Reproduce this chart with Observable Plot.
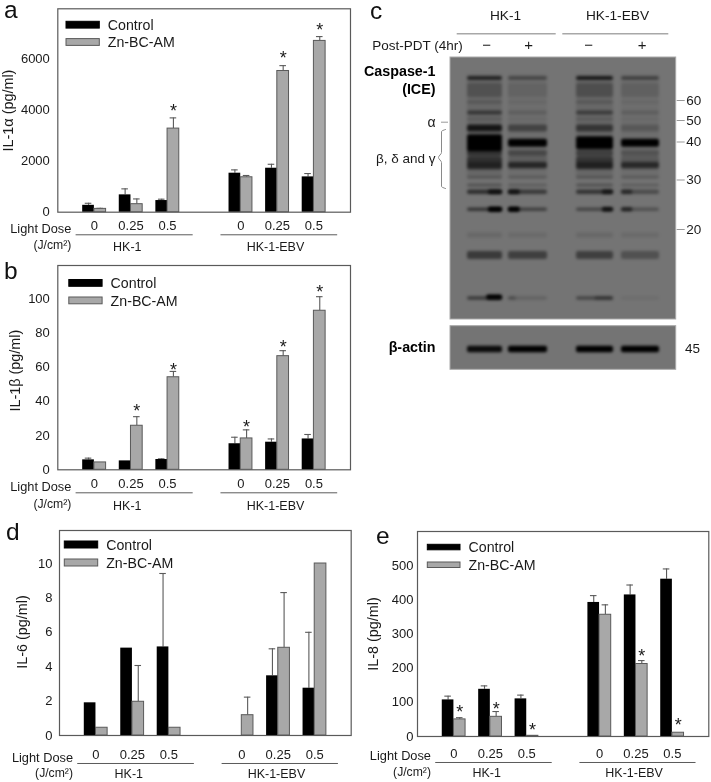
<!DOCTYPE html>
<html><head><meta charset="utf-8">
<script src="https://cdn.jsdelivr.net/npm/d3@7"></script>
<script src="https://cdn.jsdelivr.net/npm/@observablehq/plot@0.6"></script>
<style>
html,body{margin:0;padding:0;background:#fff}
#fig{position:relative;width:711px;height:782px;overflow:hidden;font-family:"Liberation Sans",Arial,sans-serif;color:#111;filter:blur(0.4px)}
#fig svg{position:absolute;max-width:none}
.ltr{position:absolute;font-size:24.5px;line-height:24px;color:#111}
</style></head><body><div id="fig"></div>
<script>
// ---------- shared categories ----------
const series = ["Control", "Zn-BC-AM"];
const doseLabels = ["0", "0.25", "0.5", "0", "0.25", "0.5"];
const slots = [0, 1, 2, 4, 5, 6];
const cellLines = ["HK-1", "HK-1-EBV"];

// ---------- panel a: IL-1alpha ----------
const aControl = [270, 680, 457, 1530, 1725, 1385];
const aControlErr = [350, 915, 510, 1660, 1880, 1516];
const aZinc = [130, 314, 3280, 1370, 5540, 6720];
const aZincErr = [150, 520, 3700, 1440, 5750, 6890];
const aStars = [null, null, 4118, null, 6183, 7294];
const aTicks = [0, 2000, 4000, 6000];

// ---------- panel b: IL-1beta ----------
const bControl = [5.8, 5.2, 6, 15.2, 16.1, 18];
const bControlErr = [6.8, null, 6.4, 19, 18, 20.6];
const bZinc = [4.3, 25.7, 54, 18.3, 66.3, 92.8];
const bZincErr = [null, 31, 57.4, 23.3, 69.5, 101];
const bStars = [null, 36.6, 60.5, 27.4, 74, 105.8];
const bTicks = [0, 20, 40, 60, 80, 100];

// ---------- panel d: IL-6 ----------
const dControl = [1.9, 5.08, 5.15, 0, 3.47, 2.75];
const dControlErr = [null, null, 9.42, null, 5.04, 6];
const dZinc = [0.45, 1.96, 0.45, 1.18, 5.1, 10];
const dZincErr = [null, 4.07, null, 2.23, 8.31, null];
const dStars = [null, null, null, null, null, null];
const dTicks = [0, 2, 4, 6, 8, 10];

// ---------- panel e: IL-8 ----------
const eControl = [107, 138, 110, 392, 414, 460];
const eControlErr = [118, 148, 121, 412, 443, 490];
const eZinc = [50, 57.5, 2, 356, 212, 11];
const eZincErr = [55, 73, null, 385, 222, null];
const eStars = [83, 92.6, 30, null, 245.6, 45];
const eTicks = [0, 100, 200, 300, 400, 500];

// ---------- panel c: blot, densities per lane at each band position ----------
const kDa = [60, 50, 40, 30, 20];
const kDaPos = [43, 63, 84.5, 122.5, 172];
const laneStart = [17, 58, 126, 171];
const laneEnd = [52, 97, 163, 209];
const bandPos = [70, 21, 33, 45, 55.5, 62, 71, 85.7, 85.7, 85.7, 96, 106, 108, 120, 128, 134.7, 152.3, 178, 198, 241, 292];
const bandThick = [105, 3.5, 14, 3, 4, 3, 7, 17, 13, 8, 6, 13, 6, 2.5, 3, 4.5, 3.5, 5, 8, 3.5, 6.5];
const lane1 = [.1, .75, .22, .2, .5, .15, .8, 1, 0, 1, .5, .55, .3, .2, .3, .6, .55, .1, .5, .5, .9];
const lane2 = [.05, .4, .1, .08, .15, .05, .4, 0, 0, 1, .35, .15, .6, .2, .2, .5, .45, .08, .45, .15, 1];
const lane3 = [.1, .85, .25, .2, .45, .15, .5, 0, 1, 1, .4, .5, .4, .2, .3, .55, .4, .1, .45, .4, 1];
const lane4 = [.05, .45, .12, .08, .15, .05, .2, 0, 0, 1, .25, .2, .55, .2, .2, .35, .3, .08, .3, .06, 1];
const laneDensity = [lane1, lane2, lane3, lane4];
// darker parts of a band inside a lane: lane, fraction from, fraction to, position, thickness, density
const spotLane = [0, 1, 2, 3, 0, 1, 2, 3, 0, 1, 2];
const spotFrom = [.6, 0, .7, 0, .6, 0, .7, 0, .55, 0, .5];
const spotTo = [1, .3, 1, .3, 1, .3, 1, .3, 1, .2, 1];
const spotPos = [134.7, 134.7, 134.7, 134.7, 152.3, 152.3, 152.3, 152.3, 240, 241, 241];
const spotThick = [4.5, 4.5, 4.5, 4, 5, 5, 4.5, 4, 5, 3, 3];
const spotDark = [.7, .7, .6, .5, 1, 1, .8, .6, 1, .25, .3];

const INK = "#1a1a1a", LINE = "#5a5a5a", GREY = "#a8a8a8";
const FONT = "Liberation Sans, Arial, sans-serif";
const fig = document.getElementById("fig");

function place(svg, left, top) {
  svg.style.left = left + "px";
  svg.style.top = top + "px";
  fig.appendChild(svg);
}

function barPanel(c) {
  const W = c.R - c.L, H = c.B - c.T;
  const sx = px => -1 + 8 * px / W;
  const sy = py => c.ymax * (1 - py / H);
  const rows = slots.flatMap((s, i) => [
    {s, k: 0, v: c.ctrl[i], e: c.ctrlErr[i], star: null},
    {s, k: 1, v: c.zinc[i], e: c.zincErr[i], star: c.stars[i]}
  ]);
  const mid = d => d.s + (d.k ? 0.16 : -0.16);
  const hw = 0.16;
  const legend = series.map((name, k) => ({name, k}));
  const groups = [
    {name: cellLines[0], at: 0.9, from: -0.5, to: 2.7},
    {name: cellLines[1], at: 4.95, from: 3.46, to: 6.65}
  ];
  const svg = Plot.plot({
    width: c.R + 5 - c.left, height: c.B + c.mb - c.top,
    marginLeft: c.L - c.left, marginRight: 5, marginTop: c.T - c.top, marginBottom: c.mb,
    x: {domain: [-1, 7]}, y: {domain: [0, c.ymax]},
    style: {fontFamily: FONT, fontSize: "13px", color: INK, background: "transparent"},
    marks: [
      Plot.frame({stroke: LINE, strokeWidth: 1.2}),
      Plot.ruleX(rows.filter(d => d.e != null), {x: mid, y1: "v", y2: "e", stroke: LINE, strokeWidth: 1.1}),
      Plot.ruleY(rows.filter(d => d.e != null), {y: "e", x1: d => mid(d) - 0.09, x2: d => mid(d) + 0.09, stroke: LINE, strokeWidth: 1.1}),
      Plot.rectY(rows.filter(d => d.k === 0 && d.v > 0), {x1: d => d.s - 2 * hw, x2: d => d.s, y1: () => 0, y2: "v", fill: "#000"}),
      Plot.rectY(rows.filter(d => d.k === 1), {x1: d => d.s, x2: d => d.s + 2 * hw, y1: () => 0, y2: "v", fill: GREY, stroke: LINE, strokeWidth: 1}),
      Plot.text(rows.filter(d => d.star != null), {x: mid, y: "star", text: () => "*", fontSize: 18, dy: 4, fill: INK}),
      // legend inside the frame
      Plot.rect(legend, {
        x1: () => sx(c.lx), x2: () => sx(c.lx + c.lw),
        y1: d => sy(c.ly[d.k]), y2: d => sy(c.ly[d.k] + c.lh),
        fill: d => d.k ? GREY : "#000", stroke: d => d.k ? LINE : "#000", strokeWidth: 1
      }),
      Plot.text(legend, {
        x: () => sx(c.lx + c.lw + 8), y: d => sy(c.ly[d.k] + c.lh / 2 + 0.2),
        text: "name", textAnchor: "start", fontSize: 14.2, fill: INK
      }),
      // axes
      Plot.axisY({ticks: c.ticks, tickSize: 0, tickPadding: c.yPad, fontSize: 13, tickFormat: "d", label: null}),
      Plot.text([c.ylabel], {frameAnchor: "left", textAnchor: "middle", rotate: -90, dx: c.labelDx, dy: c.labelDy, fontSize: 14.4, fill: INK}),
      Plot.axisX({ticks: slots, tickFormat: (d) => doseLabels[slots.indexOf(d)], tickSize: 0, tickPadding: c.xPad, fontSize: 13, label: null}),
      // treatment annotation below the axis
      Plot.ruleY(groups, {y: () => 0, x1: "from", x2: "to", dy: c.rule, stroke: LINE, strokeWidth: 1}),
      Plot.text(groups, {x: "at", y: () => 0, text: "name", dy: c.group, fontSize: 12.5, fill: INK}),
      Plot.text(["Light Dose"], {x: () => -0.63, y: () => 0, dy: c.dose1, textAnchor: "end", fontSize: 12.8, fill: INK}),
      Plot.text(["(J/cm²)"], {x: () => -0.63, y: () => 0, dy: c.dose2, textAnchor: "end", fontSize: 12.2, fill: INK})
    ]
  });
  place(svg, c.left, c.top);
}

barPanel({left: 0, top: 0, L: 57.3, T: 8.3, R: 350, B: 211.7, mb: 43, ymax: 7980,
  ctrl: aControl, ctrlErr: aControlErr, zinc: aZinc, zincErr: aZincErr, stars: aStars, ticks: aTicks,
  ylabel: "IL-1α (pg/ml)", yPad: 8, labelDx: -49.3, labelDy: 0, xPad: 9,
  lx: 8.7, lw: 33.3, ly: [13, 30.3], lh: 6.8, rule: 22.6, group: 34.5, dose1: 17, dose2: 32.5});

barPanel({left: 0, top: 255, L: 57.3, T: 265, R: 350, B: 469.3, mb: 45, ymax: 119.2,
  ctrl: bControl, ctrlErr: bControlErr, zinc: bZinc, zincErr: bZincErr, stars: bStars, ticks: bTicks,
  ylabel: "IL-1β (pg/ml)", yPad: 8, labelDx: -42.3, labelDy: 3, xPad: 9,
  lx: 11.5, lw: 33.3, ly: [14.5, 32], lh: 6.8, rule: 23, group: 36, dose1: 17, dose2: 34});

barPanel({left: 0, top: 515, L: 59, T: 530, R: 350.7, B: 735, mb: 46, ymax: 11.92,
  ctrl: dControl, ctrlErr: dControlErr, zinc: dZinc, zincErr: dZincErr, stars: dStars, ticks: dTicks,
  ylabel: "IL-6 (pg/ml)", yPad: 7, labelDx: -37.3, labelDy: -1, xPad: 14,
  lx: 5.3, lw: 33.4, ly: [11, 29], lh: 7, rule: 28, group: 39, dose1: 22, dose2: 38});

barPanel({left: 360, top: 515, L: 417, T: 531, R: 708.3, B: 736, mb: 45, ymax: 599.5,
  ctrl: eControl, ctrlErr: eControlErr, zinc: eZinc, zincErr: eZincErr, stars: eStars, ticks: eTicks,
  ylabel: "IL-8 (pg/ml)", yPad: 4, labelDx: -44, labelDy: 0, xPad: 12,
  lx: 10.3, lw: 32.7, ly: [13.3, 31], lh: 5.5, rule: 26, group: 37, dose1: 19.7, dose2: 35.7});

// ---------- panel c ----------
(function () {
  const blocks = [{y1: 0, y2: 262}, {y1: 268.7, y2: 312.3}];
  const bands = bandPos.flatMap((p, b) => laneDensity.map((dens, l) => ({
    p, t: bandThick[b], a: dens[b], x1: laneStart[l], x2: laneEnd[l]
  }))).filter(d => d.a > 0);
  const spots = spotLane.map((l, i) => {
    const w = laneEnd[l] - laneStart[l];
    return {p: spotPos[i], t: spotThick[i], a: spotDark[i], x1: laneStart[l] + w * spotFrom[i], x2: laneStart[l] + w * spotTo[i]};
  });
  const centred = [
    {t: "HK-1", x: 55, y: -42, s: 13.7},
    {t: "HK-1-EBV", x: 167, y: -42, s: 13.7},
    {t: "−", x: 36, y: -12, s: 15},
    {t: "+", x: 78, y: -12, s: 15},
    {t: "−", x: 138, y: -12, s: 15},
    {t: "+", x: 191.7, y: -12, s: 15},
    {t: "45", x: 242, y: 291, s: 13.5}
  ];
  const rightAligned = [
    {t: "Post-PDT (4hr)", x: 12.3, y: -12, s: 13.5},
    {t: "α", x: -15, y: 64.7, s: 14},
    {t: "β, δ and γ", x: -15, y: 100.7, s: 13.5}
  ];
  const bold = [
    {t: "Caspase-1", x: -15, y: 14},
    {t: "(ICE)", x: -15, y: 32.3},
    {t: "β-actin", x: -15, y: 290}
  ];
  const headerRules = [{x1: 6.7, x2: 105.7}, {x1: 112.3, x2: 218.3}];
  const brace = [[-5, 72], [-9, 74], [-9, 95], [-12, 100], [-9, 105], [-9, 129], [-5, 131]];
  const svg = Plot.plot({
    width: 356, height: 380, marginLeft: 95, marginRight: 35.3, marginTop: 57, marginBottom: 10.7,
    x: {domain: [0, 225.7], axis: null}, y: {domain: [0, 312.3], reverse: true},
    style: {fontFamily: FONT, fontSize: "13px", color: INK, background: "transparent"},
    marks: [
      Plot.rect(blocks, {x1: () => 0, x2: () => 225.7, y1: "y1", y2: "y2", fill: "#747474", stroke: "#a9a9a9", strokeWidth: 1}),
      Plot.rect(bands, {
        x1: "x1", x2: "x2", y1: d => d.p - d.t / 2, y2: d => d.p + d.t / 2,
        fill: "#000", fillOpacity: "a", rx: 2, imageFilter: "blur(1.6px)"
      }),
      Plot.rect(spots, {
        x1: "x1", x2: "x2", y1: d => d.p - d.t / 2, y2: d => d.p + d.t / 2,
        fill: "#000", fillOpacity: "a", rx: 2, imageFilter: "blur(1.4px)"
      }),
      Plot.axisY({anchor: "right", ticks: kDaPos, tickFormat: d => kDa[kDaPos.indexOf(d)], tickSize: 8, tickPadding: 2,
        fontSize: 13.5, stroke: "#999", fill: INK, label: null}),
      Plot.text(centred, {x: "x", y: "y", text: "t", fontSize: "s", fill: INK}),
      Plot.text(rightAligned, {x: "x", y: "y", text: "t", fontSize: "s", textAnchor: "end", fill: INK}),
      Plot.text(bold, {x: "x", y: "y", text: "t", fontSize: 14.3, fontWeight: "bold", textAnchor: "end", fill: "#000"}),
      Plot.ruleY(headerRules, {y: () => -23.7, x1: "x1", x2: "x2", stroke: "#a8a8a8", strokeWidth: 1.5}),
      Plot.ruleY([{}], {y: () => 64.7, x1: () => -9, x2: () => -2, stroke: "#999"}),
      Plot.line(brace, {x: d => d[0], y: d => d[1], stroke: "#8a8a8a", strokeWidth: 1, curve: "monotone-y"})
    ]
  });
  place(svg, 355, 0);
})();

// ---------- panel letters ----------
[["a", 4, -2], ["b", 4, 259], ["c", 370, -1], ["d", 6, 520], ["e", 376, 524]].forEach(([t, x, y]) => {
  const d = document.createElement("div");
  d.className = "ltr"; d.textContent = t;
  d.style.left = x + "px"; d.style.top = y + "px";
  fig.appendChild(d);
});
</script></body></html>
